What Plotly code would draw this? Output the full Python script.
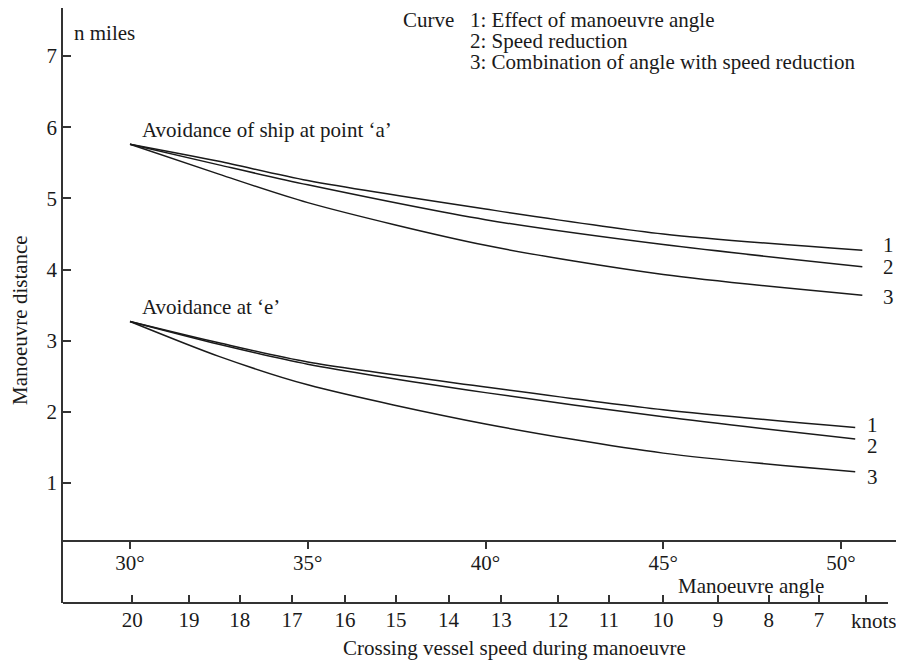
import plotly.graph_objects as go

# ---- data ----
angle_deg = [30, 32.5, 35, 40, 45, 50.6]
a_curve1 = [5.76, 5.52, 5.25, 4.85, 4.50, 4.27]
a_curve2 = [5.76, 5.47, 5.19, 4.70, 4.35, 4.04]
a_curve3 = [5.76, 5.34, 4.94, 4.34, 3.93, 3.64]

angle_deg_e = [30, 32.5, 35, 40, 45, 50.4]
e_curve1 = [3.27, 2.97, 2.70, 2.35, 2.03, 1.78]
e_curve2 = [3.27, 2.95, 2.67, 2.27, 1.93, 1.62]
e_curve3 = [3.27, 2.78, 2.38, 1.83, 1.42, 1.16]

angle_ticks = [30, 35, 40, 45, 50]
angle_labels = ["30°", "35°", "40°", "45°", "50°"]

# crossing vessel speed (knots) and the manoeuvre angle each corresponds to
knot_labels = ["20", "19", "18", "17", "16", "15", "14", "13", "12", "11", "10", "9", "8", "7", ""]
knot_at_deg = [30.06, 31.66, 33.09, 34.56, 36.05, 37.48, 38.96, 40.44, 42.04, 43.47,
               44.99, 46.54, 47.97, 49.38, 50.70]

y_ticks = [1, 2, 3, 4, 5, 6, 7]

# ---- layout helpers ----
OFF = 8                      # default page body margin
W, H = 904 - OFF, 661 - OFF
L, R, T, B = 55, 2, 0, 58
PW, PH = W - L - R, H - T - B
FONT = "Liberation Serif, Times New Roman, serif"
FS = 21
INK = "#1a1a1a"
AX = "#333333"


def px(x):
    return (x - OFF - L) / PW


def py(y):
    return (H - B - (y - OFF)) / PH


fig = go.Figure()
line_style = dict(color=INK, width=1.5, shape="spline", smoothing=0.8)
for ys in (a_curve1, a_curve2, a_curve3):
    fig.add_trace(go.Scatter(x=angle_deg, y=ys, mode="lines", line=line_style,
                             hoverinfo="skip", showlegend=False))
for ys in (e_curve1, e_curve2, e_curve3):
    fig.add_trace(go.Scatter(x=angle_deg_e, y=ys, mode="lines", line=line_style,
                             hoverinfo="skip", showlegend=False))
# invisible trace to host the knots axis
fig.add_trace(go.Scatter(x=knot_at_deg, y=[None] * len(knot_at_deg), xaxis="x2",
                         mode="lines", hoverinfo="skip", showlegend=False))

x_range = [30 - 67 / 35.55, 30 + 772 / 35.55]
y_range = [7 - 547 / 71.17, 7 + 48 / 71.17]

fig.update_layout(
    width=W, height=H,
    margin=dict(l=L, r=R, t=T, b=B, pad=0),
    paper_bgcolor="white", plot_bgcolor="white",
    font=dict(family=FONT, size=FS, color=INK),
    xaxis=dict(range=x_range, anchor="free", position=py(540.5), side="bottom",
               tickvals=angle_ticks, ticktext=angle_labels,
               ticks="outside", ticklen=8, tickwidth=1.5, tickcolor=AX,
               showline=True, linecolor=AX, linewidth=1.8,
               showgrid=False, zeroline=False, fixedrange=True,
               ticklabelstandoff=-5),
    xaxis2=dict(range=x_range, overlaying="x", anchor="y", side="bottom",
                tickvals=knot_at_deg, ticktext=knot_labels,
                ticks="inside", ticklen=8, tickwidth=1.5, tickcolor=AX,
                showline=False, showgrid=False, zeroline=False, fixedrange=True,
                ticklabelstandoff=2),
    yaxis=dict(range=y_range, tickvals=y_ticks, ticks="inside", ticklen=8,
               tickwidth=1.5, tickcolor=AX, showline=True, linecolor=AX,
               linewidth=1.8, showgrid=False, zeroline=False, fixedrange=True,
               ticklabelstandoff=0),
)

# knots axis line (shorter than the plot)
fig.add_shape(type="line", xref="paper", yref="paper", x0=0, x1=px(888),
              y0=0, y1=0, line=dict(color=AX, width=1.8))


def note(text, x, y, xanchor="left", angle=0):
    fig.add_annotation(text=text, xref="paper", yref="paper", x=px(x), y=py(y),
                       xanchor=xanchor, yanchor="middle", showarrow=False,
                       textangle=angle, borderpad=0,
                       font=dict(family=FONT, size=FS, color=INK))


note("n miles", 73, 33)
note("Curve", 402, 20)
note("1: Effect of manoeuvre angle", 469, 20)
note("2: Speed reduction", 469, 41)
note("3: Combination of angle with speed reduction", 469, 62)
note("Avoidance of ship at point ‘a’", 141, 130)
note("Avoidance at ‘e’", 141, 307)
for lab, y in (("1", 245), ("2", 267), ("3", 297)):
    note(lab, 888, y, xanchor="center")
for lab, y in (("1", 425), ("2", 446), ("3", 477)):
    note(lab, 872, y, xanchor="center")
note("Manoeuvre angle", 751, 586, xanchor="center")
note("knots.", 850, 621)
note("Crossing vessel speed during manoeuvre", 514, 648, xanchor="center")
note("Manoeuvre distance", 20, 320, xanchor="center", angle=-90)

fig.write_html("out.html")
